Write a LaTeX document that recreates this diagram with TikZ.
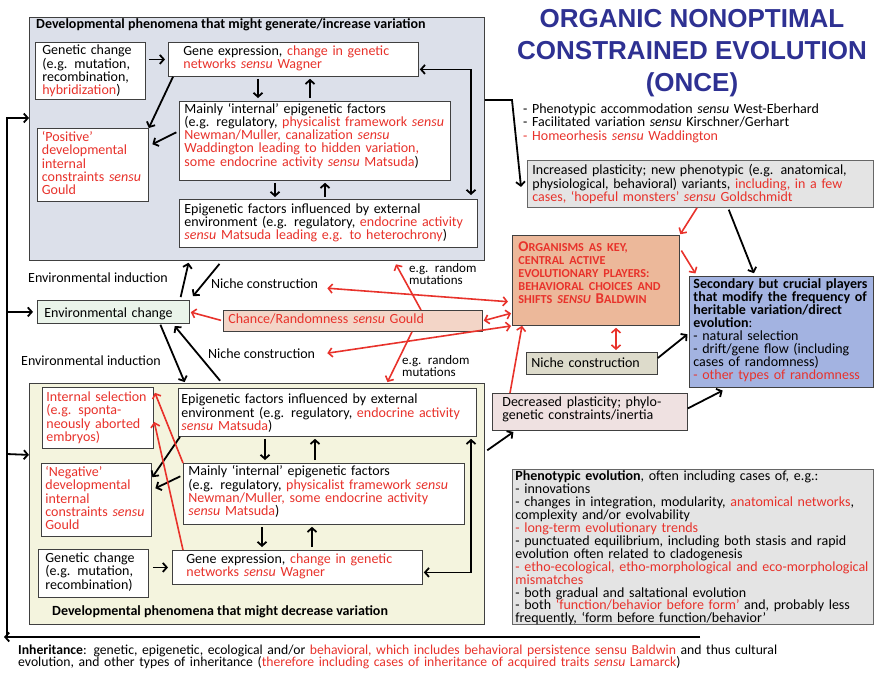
\documentclass[tikz,border=0pt]{standalone}
\usepackage{fontspec}
\setmainfont{Carlito}
\newfontfamily\titlefont{Liberation Sans}
\usetikzlibrary{arrows.meta}

\definecolor{ored}{HTML}{E8322B}
\definecolor{oblue}{HTML}{2E3192}
\definecolor{incfill}{HTML}{DCE0EA}
\definecolor{decfill}{HTML}{F4F4DE}
\definecolor{envfill}{HTML}{EAF4EA}
\definecolor{chfill}{HTML}{F3D5C7}
\definecolor{orgfill}{HTML}{ECB89A}
\definecolor{secfill}{HTML}{A3B3E1}
\definecolor{nchfill}{HTML}{DDDBCB}
\definecolor{dpfill}{HTML}{EFE1E1}
\definecolor{grfill}{HTML}{E4E4E4}

\newcommand{\rd}[1]{\textcolor{ored}{#1}}
\newcommand{\sensu}{\textit{sensu}}
\newcommand{\tight}{\lineskiplimit=-20pt\relax}
\newcommand{\bodyfont}{\fontsize{14}{13.2}\selectfont\tight}
\newcommand{\smc}[1]{{\fontsize{12.2}{13}\selectfont #1}}

\begin{document}
\begin{tikzpicture}
		[
			x=1pt, y=-1pt,
			>={Straight Barb[length=4pt,width=9pt]},
			% Make a style for the boxes.
			box/.style={draw=black!75, line width=0.8pt, fill=white, anchor=north west,
				inner xsep=0pt, inner ysep=0pt, align=left, font=\bodyfont},
			% And one for the loose labels.
			lbl/.style={anchor=base west, inner sep=0pt, align=left, font=\bodyfont},
			% Black and red connectors.
			arr/.style={->, line width=1.8pt},
			rarr/.style={->, ored, line width=1.6pt}
		]
			\useasboundingbox (0,0) rectangle (874,673);

			% Two big panels.
			\node[box, fill=incfill, minimum width=455pt, minimum height=243pt] (incr) at (29,17) {};
			\node[box, fill=decfill, minimum width=455pt, minimum height=241pt] (decr) at (29,383) {};
			\node[lbl, font=\bodyfont\bfseries] (incrT) at (36,28.5)
				{Developmental phenomena that might generate/increase variation};
			\node[lbl, font=\bodyfont\bfseries] (decrT) at (52,615)
				{Developmental phenomena that might decrease variation};

			% Upper panel.
			\node[box, minimum width=110pt, text width=96pt, text height=12.5pt, text depth=44.5pt]
				(genA) at (35,42) {Genetic change\\(e.g. mutation,\\recombination,\\\rd{hybridization})};
			\node[box, minimum width=250pt, text width=220pt, text height=13.2pt, text depth=20.8pt]
				(gexpA) at (168,42) {Gene expression, \rd{change in genetic}\\\rd{networks \sensu{} Wagner}};
			\node[box, text=ored, minimum width=111pt, text width=102pt, text height=13.2pt, text depth=59.8pt]
				(posA) at (37,128) {‘Positive’\\developmental\\internal\\constraints \sensu\\Gould};
			\node[box, minimum width=271pt, text width=261pt, text height=11.8pt, text depth=67.2pt]
				(mainA) at (179,101) {Mainly ‘internal’ epigenetic factors\\(e.g. regulatory, \rd{physicalist framework \sensu}\\\rd{Newman/Muller, canalization \sensu}\\\rd{Waddington leading to hidden variation,}\\\rd{some endocrine activity \sensu{} Matsuda})};
			\node[box, minimum width=298pt, text width=288pt, text height=13.8pt, text depth=34.2pt]
				(epiA) at (179,199) {Epigenetic factors influenced by external\\environment (e.g. regulatory, \rd{endocrine activity}\\\rd{\sensu{} Matsuda leading e.g. to heterochrony})};

			% Environment and chance.
			\node[box, fill=envfill, minimum width=152pt, text width=138pt, text height=16.8pt, text depth=6.2pt]
				(env) at (37,300) {Environmental change};
			\node[box, fill=chfill, text=ored, minimum width=259pt, text width=249pt, text height=13.5pt, text depth=7.5pt]
				(chance) at (223,310) {Chance/Randomness \sensu{} Gould};
			\node[lbl] (indA) at (28,282) {Environmental induction};
			\node[lbl] (nchA) at (211,288) {Niche construction};
			\node[lbl] (indD) at (21,365) {Environmental induction};
			\node[lbl] (nchD) at (208,358) {Niche construction};
			\node[lbl, text width=70pt, font=\fontsize{13}{12}\selectfont\tight]
				(rndA) at (409,272.5) {e.g. random\\mutations};
			\node[lbl, text width=70pt, font=\fontsize{13}{12}\selectfont\tight]
				(rndD) at (402,364.5) {e.g. random\\mutations};

			% Lower panel.
			\node[box, text=ored, minimum width=111pt, text width=103pt, text height=14.2pt, text depth=46.8pt]
				(selD) at (42,387) {Internal selection\\(e.g. sponta-\\neously aborted\\embryos)};
			\node[box, minimum width=298pt, text width=292pt, text height=15.5pt, text depth=32.5pt]
				(epiD) at (178,388) {Epigenetic factors influenced by external\\environment (e.g. regulatory, \rd{endocrine activity}\\\rd{\sensu{} Matsuda})};
			\node[box, text=ored, minimum width=110pt, text width=102pt, text height=13.2pt, text depth=59.8pt]
				(negD) at (41,463) {‘Negative’\\developmental\\internal\\constraints \sensu\\Gould};
			\node[box, minimum width=281pt, text width=271pt, text height=12.5pt, text depth=48.5pt]
				(mainD) at (183,463) {Mainly ‘internal’ epigenetic factors\\(e.g. regulatory, \rd{physicalist framework \sensu}\\\rd{Newman/Muller, some endocrine activity}\\\rd{\sensu{} Matsuda})};
			\node[box, minimum width=110pt, text width=96pt, text height=13.2pt, text depth=34.8pt]
				(genD) at (38,549) {Genetic change\\(e.g. mutation,\\recombination)};
			\node[box, minimum width=250pt, text width=222pt, text height=12.8pt, text depth=21.2pt]
				(gexpD) at (172,550) {Gene expression, \rd{change in genetic}\\\rd{networks \sensu{} Wagner}};

			% Right column.
			\node[inner sep=0pt, align=center, text=oblue, font=\titlefont\bfseries\fontsize{26}{32}\selectfont]
				(once) at (692,53) {ORGANIC NONOPTIMAL\\CONSTRAINED EVOLUTION\\(ONCE)};
			\node[lbl, text width=340pt, font=\fontsize{14}{13.5}\selectfont\tight]
				(accom) at (523,113) {- Phenotypic accommodation \sensu{} West-Eberhard\\- Facilitated variation \sensu{} Kirschner/Gerhart\\\rd{- Homeorhesis \sensu{} Waddington}};
			\node[box, fill=grfill, draw=black!60, minimum width=346pt, text width=336pt, text height=14.5pt, text depth=32.5pt]
				(incP) at (527,160) {Increased plasticity; new phenotypic (e.g. anatomical,\\physiological, behavioral) variants, \rd{including, in a few}\\\rd{cases, ‘hopeful monsters’ \sensu{} Goldschmidt}};
			\node[box, fill=orgfill, text=ored, minimum width=167pt, text width=155pt, text height=16pt, text depth=74pt,
				font=\fontsize{15}{13}\selectfont\bfseries\tight]
				(org) at (512,235) {O\smc{RGANISMS AS KEY,}\\\smc{CENTRAL ACTIVE}\\\smc{EVOLUTIONARY PLAYERS:}\\\smc{BEHAVIORAL CHOICES AND}\\\smc{SHIFTS \textit{SENSU}} B\smc{ALDWIN}};
			\node[box, fill=secfill, minimum width=184pt, text width=176pt, text height=11.8pt, text depth=99.2pt,
				font=\fontsize{14}{13}\selectfont\tight]
				(sec) at (689,276) {{\bfseries Secondary but crucial players\\that modify the frequency of\\heritable variation/direct\\evolution}:\\- natural selection\\- drift/gene flow (including\\cases of randomness)\\\rd{- other types of randomness}};
			\node[box, fill=nchfill, minimum width=131pt, text width=121pt, text height=15.2pt, text depth=6.8pt]
				(nicheR) at (526,352) {Niche construction};
			\node[box, fill=dpfill, minimum width=195pt, text width=175pt, text height=13.2pt, text depth=23.8pt]
				(decP) at (492,393) {Decreased plasticity; phylo-\\genetic constraints/inertia};
			\node[box, fill=grfill, draw=black!60, minimum width=361pt, text width=355pt, text height=11.5pt, text depth=143.5pt,
				font=\fontsize{14}{12.9}\selectfont\tight]
				(phen) at (512,469) {\textbf{Phenotypic evolution}, often including cases of, e.g.:\\- innovations\\- changes in integration, modularity, \rd{anatomical networks},\\complexity and/or evolvability\\\rd{- long-term evolutionary trends}\\- punctuated equilibrium, including both stasis and rapid\\evolution often related to cladogenesis\\\rd{- etho-ecological, etho-morphological and eco-morphological}\\\rd{mismatches}\\- both gradual and saltational evolution\\- both \rd{‘function/behavior before form’} and, probably less\\frequently, ‘form before function/behavior’};

			% Inheritance text at the bottom.
			\node[lbl, text width=860pt, font=\fontsize{13.7}{12.3}\selectfont\tight]
				(inher) at (18,654.5) {\textbf{Inheritance}: genetic, epigenetic, ecological and/or \rd{behavioral, which includes behavioral persistence sensu Baldwin} and thus cultural\\evolution, and other types of inheritance (\rd{therefore including cases of inheritance of acquired traits \sensu{} Lamarck})};

			% Arrows in the upper panel.
			\draw[arr, shorten <=3pt, shorten >=3pt] (genA.east |- gexpA.west) -- (gexpA.west);
			\draw[arr] ([xshift=5pt]gexpA.south west) -- (posA.north east);
			\draw[arr, shorten <=3pt, shorten >=4pt] ([yshift=-30pt]mainA.north west) -- ([yshift=-18pt]posA.north east);
			\draw[arr, shorten <=2pt, shorten >=3pt] (258,0 |- gexpA.south) -- (258,0 |- mainA.north);
			\draw[arr, shorten <=3pt, shorten >=2pt] (310,0 |- mainA.north) -- (310,0 |- gexpA.south);
			\draw[arr, shorten <=2pt, shorten >=2pt] (275,0 |- mainA.south) -- (275,0 |- epiA.north);
			\draw[arr, shorten <=2pt, shorten >=2pt] (325,0 |- epiA.north) -- (325,0 |- mainA.south);
			\draw[arr, <->, shorten <=1pt, shorten >=4pt] ([yshift=-10pt]gexpA.east) -| (471,0 |- epiA.north);

			% Arrows in the lower panel.
			\draw[arr, shorten <=4pt, shorten >=4pt] (genD.east |- gexpD.west) -- (gexpD.west);
			\draw[arr, shorten >=1pt] ([xshift=2pt]epiD.south west) -- ([yshift=-15pt]negD.north east);
			\draw[arr, shorten <=3pt, shorten >=4pt] ([yshift=-12pt]mainD.north west) -- ([yshift=-27pt]negD.north east);
			\draw[arr, shorten <=2pt, shorten >=3pt] (265,0 |- epiD.south) -- (265,0 |- mainD.north);
			\draw[arr, shorten <=3pt, shorten >=2pt] (315,0 |- mainD.north) -- (315,0 |- epiD.south);
			\draw[arr, shorten <=2pt, shorten >=3pt] (262,0 |- mainD.south) -- (262,0 |- gexpD.north);
			\draw[arr, shorten <=3pt, shorten >=2pt] (312,0 |- gexpD.north) -- (312,0 |- mainD.south);
			\draw[arr, <->, shorten <=1pt, shorten >=2pt] ([yshift=-5pt]gexpD.east) -| (471,0 |- epiD.south);
			\draw[rarr, shorten >=3pt] (mainD.north west) -- ([yshift=-3pt]selD.north east);
			\draw[rarr, shorten >=2pt] ([xshift=11pt]gexpD.north west) -- ([yshift=-33pt]selD.north east);

			% Inheritance loop.
			\coordinate (inhR) at (700,637);
			\coordinate (inhL) at (7,637);
			\coordinate (inhTip) at (4,637);
			\draw[arr] (inhR) -- (inhTip);
			\draw[arr] ([yshift=-0.9pt]inhL) |- ([yshift=-101pt]incr.north west);
			\draw[arr, shorten >=4pt] (inhL |- env.west) -- (env.west);
			\draw[arr] (inhL |- 0,454) -- ([yshift=49pt]decr.west);

			% Environment.
			\draw[arr, shorten <=3pt, shorten >=2pt] ([xshift=143pt]env.north west) -- ([xshift=160pt]incr.south west);
			\draw[arr, shorten <=4pt, shorten >=5pt] ([xshift=193pt]incr.south west) -- (env.north east);
			\draw[arr, shorten <=1pt, shorten >=1pt] ([xshift=123pt]env.south west) -- ([xshift=156pt]decr.north west);
			\draw[arr, shorten <=3pt, shorten >=3pt] ([xshift=193pt]decr.north west) -- ([xshift=-17pt]env.south east);

			% Chance and the organisms.
			\draw[rarr, shorten <=2pt, shorten >=1pt] (chance.west) -- (env.east);
			\draw[rarr, shorten >=4pt] ([xshift=198pt]chance.north west) -- ([xshift=365pt]incr.south west);
			\draw[rarr, shorten >=1pt] ([xshift=189pt]chance.south west) -- ([xshift=358pt]decr.north west);
			\draw[rarr, <->, shorten >=4pt] ([xshift=9pt,yshift=-5pt]nchA.east) -- ([yshift=-67pt]org.north west);
			\draw[rarr, <->, shorten <=1pt, shorten >=1pt] (chance.east) -- ([yshift=-78pt]org.north west);
			\draw[rarr, <->, shorten >=1pt] ([xshift=12pt]nchD.east) -- (org.south west);
			\draw[rarr] ([xshift=18pt]decP.north west) -- ([xshift=10pt]org.south west);
			\draw[rarr, shorten >=1pt] ([xshift=170pt]incP.south west) -- (org.north east);
			\draw[rarr, shorten <=3pt, shorten >=3pt] ([yshift=-13pt]org.north east) -- ([xshift=8pt]sec.north west);
			\draw[rarr, <->, shorten <=2pt, shorten >=2pt] (616,0 |- org.south) -- (616,0 |- nicheR.north);

			% Black arrows on the right.
			\coordinate (bendI) at (512,100);
			\draw[arr] ([yshift=-83pt]incr.north east) -- (bendI) -- ([xshift=-6pt,yshift=-3pt]incP.west);
			\draw[arr, shorten <=2pt, shorten >=3pt] ([xshift=201pt]incP.south west) -- ([xshift=66pt]sec.north west);
			\draw[arr, shorten >=2pt] ([yshift=-6pt]nicheR.north east) -- ([yshift=-57pt]sec.north west);
			\draw[arr, shorten >=6pt] ([yshift=3.5pt]decP.east) -- ([xshift=39pt]sec.south west);
			\draw[arr, shorten <=3pt, shorten >=2pt] ([yshift=-69pt]decr.north east) -- ([xshift=23pt]decP.south west);
		\end{tikzpicture}
\end{document}
